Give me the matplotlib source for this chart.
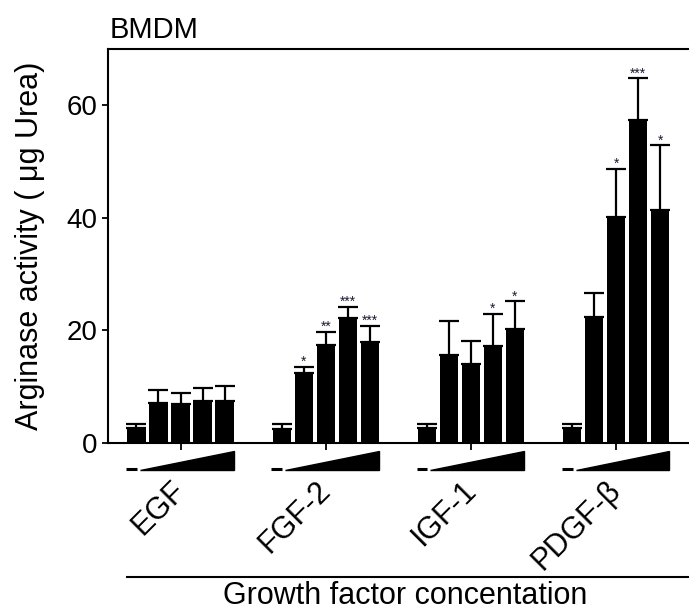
import numpy as np
import matplotlib
matplotlib.use("Agg")
import matplotlib.pyplot as plt
from matplotlib.lines import Line2D

plt.rcParams['font.family'] = ['Liberation Sans', 'DejaVu Sans']

# Daten
gruppen = ['EGF', 'FGF-2', 'IGF-1', 'PDGF-β']
mittelwerte = [
    [2.6, 7.05, 6.9, 7.4, 7.4],
    [2.5, 12.5, 17.4, 22.25, 17.9],
    [2.6, 15.7, 14.0, 17.3, 20.3],
    [2.6, 22.4, 40.2, 57.3, 41.4],
]
fehler = [
    [0.7, 2.35, 2.0, 2.4, 2.8],
    [0.8, 1.05, 2.4, 1.95, 2.9],
    [0.7, 6.0, 4.2, 5.7, 4.9],
    [0.7, 4.2, 8.5, 7.5, 11.5],
]
sterne = [
    ['', '', '', '', ''],
    ['', '*', '**', '***', '***'],
    ['', '', '', '*', '*'],
    ['', '', '*', '***', '*'],
]

gruppen_abstand = 6.6
breite = 0.82

fig = plt.figure(figsize=(6.89, 6.12), dpi=100)
ax = fig.add_axes([108 / 689, 1 - 443 / 612, 581 / 689, 394 / 612])

tick_pos = []
for g in range(len(gruppen)):
    x = g * gruppen_abstand + np.arange(5)
    m = np.array(mittelwerte[g])
    e = np.array(fehler[g])
    ax.bar(x, m, width=breite, color='black', zorder=2)
    ax.errorbar(x, m, yerr=[np.zeros_like(e), e], fmt='none', ecolor='black',
                elinewidth=1.6, capsize=7, capthick=1.6, zorder=1)
    for xi, mi, ei, s in zip(x, m, e, sterne[g]):
        if s:
            ax.annotate(s, (xi, mi + ei), xytext=(0, 0.5), textcoords='offset points',
                        ha='center', va='baseline', fontsize=10, color='#1a1a33')
    tick_pos.append(x[2])

    # Konzentrations-Dreieck und Strich unter der Achse
    trans = ax.get_xaxis_transform()
    ax.fill([x[0] + 0.16, x[4] + 0.41, x[4] + 0.41],
            [-0.0685, -0.0685, -0.0203], color='black', transform=trans,
            clip_on=False)
    ax.add_line(Line2D([x[0] - 0.47, x[0] + 0.02], [-0.066, -0.066],
                       color='black', lw=2.2, transform=trans, clip_on=False,
                       solid_capstyle='butt'))
    ax.text(x[2] + 0.5, -0.083, gruppen[g], rotation=45, ha='right', va='top',
            fontsize=22, transform=trans)

ax.set_xlim(-1.295, 25.11)
ax.set_ylim(0, 70)
ax.set_yticks([0, 20, 40, 60])
ax.set_xticks(tick_pos)
ax.set_xticklabels([])
ax.tick_params(axis='y', labelsize=20, length=4.5, width=1.3, pad=3)
ax.tick_params(axis='x', length=5, width=1.3)
for s in ['left', 'bottom', 'top']:
    ax.spines[s].set_linewidth(1.5)
ax.spines['right'].set_visible(False)

fig.text(30 / 689, 1 - 246 / 612, 'Arginase activity ( μg Urea)', rotation=90,
         ha='center', va='center', fontsize=22)
fig.text(110 / 689, 1 - 38 / 612, 'BMDM', fontsize=21, va='baseline')

fig.add_artist(Line2D([127 / 689, 1.0], [1 - 577 / 612, 1 - 577 / 612],
                      color='black', lw=1.5))
fig.text(405 / 689, 1 - 604 / 612, 'Growth factor concentation', ha='center',
         va='baseline', fontsize=22)

fig.savefig('out.png', dpi=100)
